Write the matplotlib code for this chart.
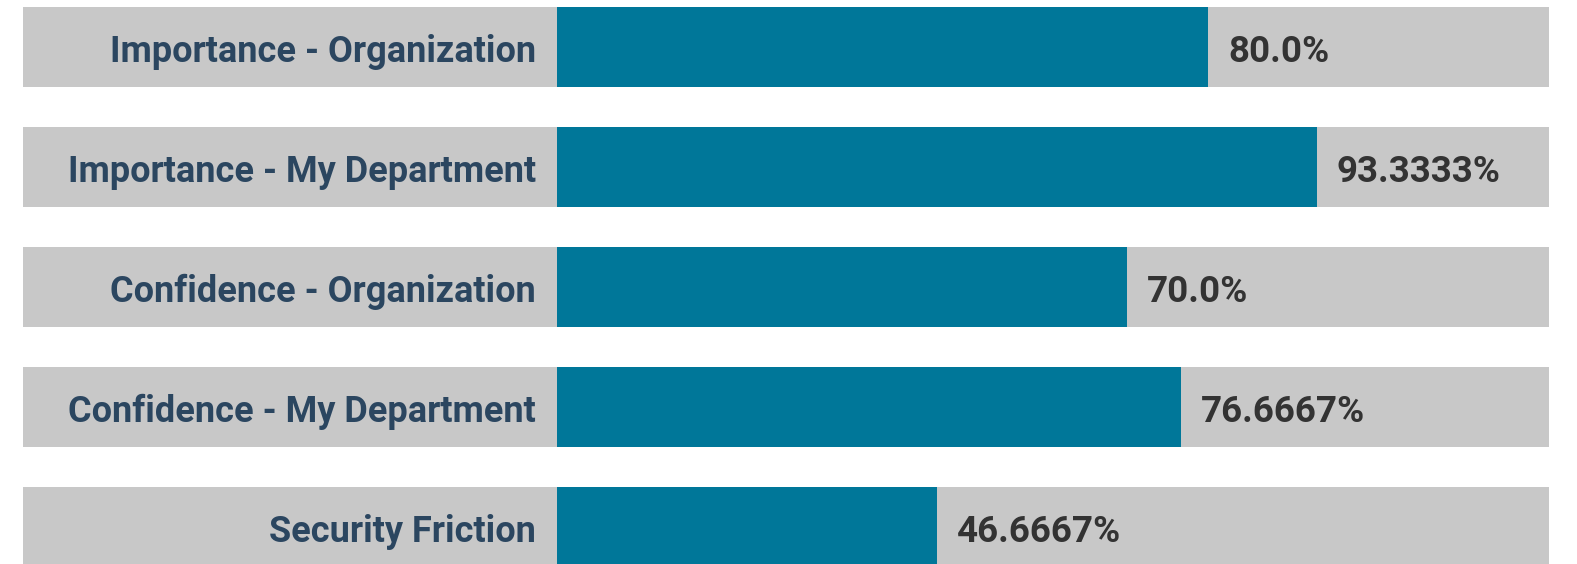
import matplotlib.pyplot as plt

# data
categories = [
    "Importance - Organization",
    "Importance - My Department",
    "Confidence - Organization",
    "Confidence - My Department",
    "Security Friction",
]
values = [80.0, 93.3333, 70.0, 76.6667, 46.6667]
value_labels = ["80.0%", "93.3333%", "70.0%", "76.6667%", "46.6667%"]

BLUE = "#007799"
GRAY = "#c8c8c8"
LABEL_COLOR = "#2b4660"
VALUE_COLOR = "#333333"

x_max = 121.9
x_left = -65.6  # room for the labels inside the gray track

fig = plt.figure(figsize=(15.77, 5.64), dpi=100)
# axes spans x pixels 23..1549, full height
ax = fig.add_axes([23 / 1577, 0, (1549 - 23) / 1577, 1])

ypos = list(range(len(categories)))
ax.barh(ypos, [x_max - x_left] * len(ypos), left=x_left, height=80 / 120,
        color=GRAY, linewidth=0)
ax.barh(ypos, values, left=0, height=80 / 120, color=BLUE, linewidth=0)

for y, cat, val, lab in zip(ypos, categories, values, value_labels):
    ax.text(-2.55, y + 0.125, cat, ha="right", va="baseline",
            fontsize=26, fontweight="bold", family="Roboto", color=LABEL_COLOR)
    ax.text(val + 2.45, y + 0.125, lab, ha="left", va="baseline",
            fontsize=26.5, fontweight="bold", family="Roboto", color=VALUE_COLOR)

ax.set_xlim(x_left, x_max)
ax.set_ylim(4 + (564 - 527) / 120, -47 / 120)
ax.axis("off")

fig.savefig("out.png", dpi=100)
